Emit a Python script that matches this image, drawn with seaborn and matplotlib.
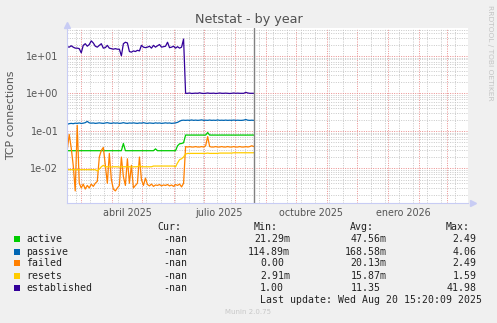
import numpy as np
import pandas as pd
import matplotlib
matplotlib.use("Agg")
import matplotlib.pyplot as plt
import matplotlib.dates as mdates
from matplotlib.patches import Rectangle
from matplotlib.ticker import FixedLocator, NullFormatter, FuncFormatter
import seaborn as sns

# ---------------- data (2-day consolidated samples from 2025-02-15) ----------------
first_sample = "2025-02-15"
sample_step = "2D"

established = [17.5, 17, 18.5, 17, 16, 16, 15.5, 12, 19, 21,
               18, 20, 25, 22, 18, 17, 19, 21, 16, 16.5,
               19, 16, 15.5, 15, 15.5, 15, 15, 10, 21, 23,
               22, 13, 12.5, 13.5, 13, 14, 13.5, 19, 17, 16.5,
               17, 18, 16, 19, 17, 18.5, 20, 17, 17.5, 18,
               23, 16.5, 17, 18, 16, 17.5, 16, 17, 28, 1.0,
               1.0, 1.02, 0.99, 1.0, 1.01, 1.0, 1.03, 1.0, 0.99, 1.0,
               1.02, 1.0, 1.0, 1.01, 0.99, 1.0, 1.02, 1.0, 1.0, 1.01,
               1.0, 0.99, 1.0, 1.02, 1.0, 1.01, 1.0, 1.0, 1.0, 1.06,
               1.02, 1.0, 1.0, 1.0]

passive = [0.149, 0.155, 0.158, 0.155, 0.16, 0.158, 0.162, 0.157, 0.16, 0.165,
           0.178, 0.163, 0.16, 0.162, 0.158, 0.16, 0.163, 0.16, 0.158, 0.162,
           0.165, 0.16, 0.158, 0.163, 0.16, 0.162, 0.158, 0.16, 0.165, 0.16,
           0.158, 0.162, 0.16, 0.163, 0.16, 0.158, 0.162, 0.16, 0.165, 0.16,
           0.158, 0.162, 0.16, 0.158, 0.163, 0.16, 0.162, 0.158, 0.16, 0.163,
           0.16, 0.162, 0.158, 0.16, 0.163, 0.168, 0.18, 0.19, 0.192, 0.19,
           0.192, 0.19, 0.195, 0.19, 0.193, 0.19, 0.192, 0.196, 0.19, 0.192,
           0.19, 0.194, 0.19, 0.192, 0.19, 0.195, 0.19, 0.192, 0.19, 0.193,
           0.19, 0.192, 0.19, 0.194, 0.19, 0.192, 0.19, 0.19, 0.193, 0.2,
           0.192, 0.19, 0.192, 0.19]

active = [0.0295, 0.0295, 0.0295, 0.0295, 0.0295, 0.0295, 0.0295, 0.0295, 0.0295, 0.0295,
          0.0295, 0.0295, 0.0295, 0.0295, 0.0295, 0.0295, 0.0295, 0.0295, 0.0295, 0.0295,
          0.0295, 0.0295, 0.0295, 0.0295, 0.0295, 0.0295, 0.0295, 0.0295, 0.046, 0.0295,
          0.0295, 0.0295, 0.0295, 0.0295, 0.0295, 0.0295, 0.0295, 0.0295, 0.0295, 0.0295,
          0.0295, 0.0295, 0.0295, 0.0295, 0.033, 0.0295, 0.0295, 0.0295, 0.0295, 0.0295,
          0.0295, 0.0295, 0.0295, 0.0295, 0.0295, 0.04, 0.045, 0.046, 0.048, 0.077,
          0.077, 0.077, 0.077, 0.077, 0.077, 0.077, 0.077, 0.077, 0.077, 0.077,
          0.09, 0.077, 0.077, 0.077, 0.077, 0.077, 0.077, 0.077, 0.077, 0.077,
          0.077, 0.077, 0.077, 0.077, 0.077, 0.077, 0.077, 0.077, 0.077, 0.077,
          0.077, 0.077, 0.077, 0.077]

failed = [0.03, 0.08, 0.035, 0.012, 0.0025, 0.14, 0.004, 0.003, 0.0038, 0.0028,
          0.0035, 0.003, 0.0038, 0.0033, 0.004, 0.0045, 0.02, 0.03, 0.036, 0.012,
          0.004, 0.025, 0.005, 0.0028, 0.0025, 0.003, 0.0035, 0.02, 0.006, 0.0035,
          0.018, 0.004, 0.012, 0.003, 0.0035, 0.004, 0.02, 0.005, 0.0035, 0.0055,
          0.0037, 0.0034, 0.0038, 0.0033, 0.0036, 0.0035, 0.0037, 0.0034, 0.0036, 0.0035,
          0.0037, 0.0034, 0.0036, 0.0033, 0.0037, 0.0035, 0.0038, 0.0032, 0.004, 0.038,
          0.037, 0.038, 0.037, 0.037, 0.038, 0.037, 0.037, 0.038, 0.037, 0.04,
          0.07, 0.038, 0.037, 0.037, 0.038, 0.037, 0.037, 0.038, 0.037, 0.037,
          0.038, 0.037, 0.037, 0.038, 0.037, 0.037, 0.038, 0.037, 0.037, 0.038,
          0.037, 0.038, 0.04, 0.038]

resets = [0.0092, 0.0092, 0.0092, 0.0092, 0.0092, 0.0092, 0.0092, 0.0092, 0.0092, 0.0092,
          0.0092, 0.0092, 0.0092, 0.0092, 0.0092, 0.0085, 0.0095, 0.011, 0.012, 0.011,
          0.011, 0.011, 0.0108, 0.011, 0.011, 0.011, 0.0108, 0.011, 0.011, 0.011,
          0.011, 0.011, 0.0108, 0.011, 0.011, 0.011, 0.012, 0.011, 0.011, 0.011,
          0.011, 0.011, 0.011, 0.0115, 0.0115, 0.0115, 0.0115, 0.0115, 0.0115, 0.0115,
          0.0115, 0.0115, 0.0115, 0.0115, 0.011, 0.014, 0.017, 0.018, 0.02, 0.024,
          0.025, 0.025, 0.025, 0.025, 0.025, 0.025, 0.025, 0.025, 0.025, 0.025,
          0.0255, 0.025, 0.025, 0.025, 0.025, 0.025, 0.0255, 0.0255, 0.0255, 0.0255,
          0.0255, 0.0255, 0.0255, 0.026, 0.026, 0.026, 0.026, 0.026, 0.026, 0.026,
          0.026, 0.026, 0.026, 0.026]

series_names = ["active", "passive", "failed", "resets", "established"]
series_colors = ["#00CC00", "#0066B3", "#FF8000", "#FFCC00", "#330099"]

cur_vals = ["-nan", "-nan", "-nan", "-nan", "-nan"]
min_vals = ["21.29m", "114.89m", "0.00", "2.91m", "1.00"]
avg_vals = ["47.56m", "168.58m", "20.13m", "15.87m", "11.35"]
max_vals = ["2.49", "4.06", "2.49", "1.59", "41.98"]

title = "Netstat - by year"
ylabel = "TCP connections"
month_labels = ["abril 2025", "julio 2025", "octubre 2025", "enero 2026"]
month_label_dates = ["2025-04-16", "2025-07-16", "2025-10-16", "2026-01-16"]
view_start = "2025-02-14 12:00"
view_end = "2026-03-21 12:00"
now_time = "2025-08-20 15:20:09"
last_update = "Last update: Wed Aug 20 15:20:09 2025"
ytick_values = [1e-2, 1e-1, 1e0, 1e1]

# ---------------- build frame ----------------
dates = pd.date_range(first_sample, periods=len(active), freq=sample_step)
values = {"active": active, "passive": passive, "failed": failed,
          "resets": resets, "established": established}
df = pd.concat([pd.DataFrame({"date": dates, "value": values[n], "series": n})
                for n in series_names], ignore_index=True)

# ---------------- figure ----------------
W, H = 497, 323
sns.set_theme(style="white")
plt.rcParams["font.family"] = ["DejaVu Sans"]
fig = plt.figure(figsize=(W / 100, H / 100), dpi=100, facecolor="#F0F0F0")
L, R, T, B = 66.7, 468.0, 28.0, 203.0
ax = fig.add_axes([L / W, 1 - B / H, (R - L) / W, (B - T) / H])
ax.set_facecolor("white")

palette = dict(zip(series_names, series_colors))
sns.lineplot(data=df, x="date", y="value", hue="series", hue_order=series_names,
             palette=palette, estimator=None, linewidth=0.9, legend=False, ax=ax)

ax.set_yscale("log")

major_c = (0.92, 0.55, 0.55)
minor_c = (0.78, 0.78, 0.78)
dot = (0, (1, 1.4))

# y grid
ax.yaxis.set_major_locator(FixedLocator(ytick_values))
minors = [m * 10.0 ** e for e in range(-3, 2) for m in range(2, 10)]
ax.yaxis.set_minor_locator(FixedLocator(minors))
ax.yaxis.set_major_formatter(FuncFormatter(lambda v, p: f"{v:.0e}"))
ax.yaxis.set_minor_formatter(NullFormatter())

# x grid: month starts (major), biweekly Mondays (minor)
month_starts = pd.date_range("2025-02-01", "2026-04-01", freq="MS")
biweekly = pd.date_range("2025-02-10", "2026-04-01", freq="14D")
ax.set_xticks(mdates.date2num(month_starts))
ax.set_xticks(mdates.date2num(biweekly), minor=True)
ax.xaxis.set_major_formatter(NullFormatter())
ax.xaxis.set_minor_formatter(NullFormatter())

# limits set after ticks (set_xticks would widen them)
ax.set_ylim(1.19e-3, 55.1)
ax.set_xlim(mdates.date2num(pd.Timestamp(view_start)), mdates.date2num(pd.Timestamp(view_end)))

ax.grid(which="major", color=major_c, linestyle=dot, linewidth=0.7)
ax.grid(which="minor", color=minor_c, linestyle=dot, linewidth=0.7)
ax.set_axisbelow(True)

ax.tick_params(axis="x", which="major", direction="inout", length=4, width=0.7, color=(0.9, 0.45, 0.45))
ax.tick_params(axis="x", which="minor", direction="inout", length=4, width=0.7, color=(0.75, 0.75, 0.75))
ax.tick_params(axis="y", which="major", direction="in", length=0, labelsize=7, labelcolor="#555555", pad=6)
ax.tick_params(axis="y", which="minor", length=0)

for s in ["top", "right"]:
    ax.spines[s].set_visible(False)
axis_c = "#c8ccf4"
for s in ["left", "bottom"]:
    ax.spines[s].set_color(axis_c)
    ax.spines[s].set_linewidth(0.8)
ax.plot([1.012], [0], marker=">", color=axis_c, markersize=5, transform=ax.transAxes, clip_on=False)
ax.plot([0], [1.02], marker="^", color=axis_c, markersize=5, transform=ax.transAxes, clip_on=False)

# now line
ax.axvline(mdates.date2num(pd.Timestamp(now_time)), color="#808080", linewidth=1.0)

ax.set_xlabel("")
ax.set_ylabel("")

# month labels
for lab, d in zip(month_labels, month_label_dates):
    ax.text(mdates.date2num(pd.Timestamp(d)), -0.055, lab, transform=ax.get_xaxis_transform(),
            ha="center", va="center", fontsize=6.9, color="#555555")

def ftext(x, y, s, **kw):
    return fig.text(x / W, 1 - y / H, s, **kw)

ftext(248.5, 19, title, ha="center", va="center", fontsize=9.2, color="#505050")
ftext(11.5, 115, ylabel, ha="center", va="center", rotation=90, fontsize=7.8, color="#555555")
ftext(490, 53, "RRDTOOL / TOBI OETIKER", ha="center", va="center", rotation=270,
      fontsize=5.4, color="#c4c4c4")
ftext(248, 312, "Munin 2.0.75", ha="center", va="center", fontsize=5.0, color="#c8c8c8")

mono = dict(family="DejaVu Sans Mono", fontsize=7.1, color="#222222", va="center")
cw = 5.97
ftext(181, 227.3, "Cur:", ha="right", **mono)
ftext(278, 227.3, "Min:", ha="right", **mono)
ftext(374, 227.3, "Avg:", ha="right", **mono)
ftext(470, 227.3, "Max:", ha="right", **mono)

def rpos(edge, s):
    return edge if s.endswith("m") else edge - cw

row_y = [239.3, 251.6, 263.4, 275.6, 287.6]
for i, n in enumerate(series_names):
    y = row_y[i]
    fig.add_artist(Rectangle((14 / W, 1 - (y + 3) / H), 6 / W, 6 / H,
                             transform=fig.transFigure, facecolor=series_colors[i],
                             edgecolor="none"))
    ftext(26.3, y, n, ha="left", **mono)
    ftext(187.7, y, cur_vals[i], ha="right", **mono)
    ftext(rpos(290.0, min_vals[i]), y, min_vals[i], ha="right", **mono)
    ftext(rpos(386.7, avg_vals[i]), y, avg_vals[i], ha="right", **mono)
    ftext(rpos(482.6, max_vals[i]), y, max_vals[i], ha="right", **mono)

ftext(482.4, 299.6, last_update, ha="right", **mono)

fig.savefig("out.png", dpi=100, facecolor=fig.get_facecolor())
